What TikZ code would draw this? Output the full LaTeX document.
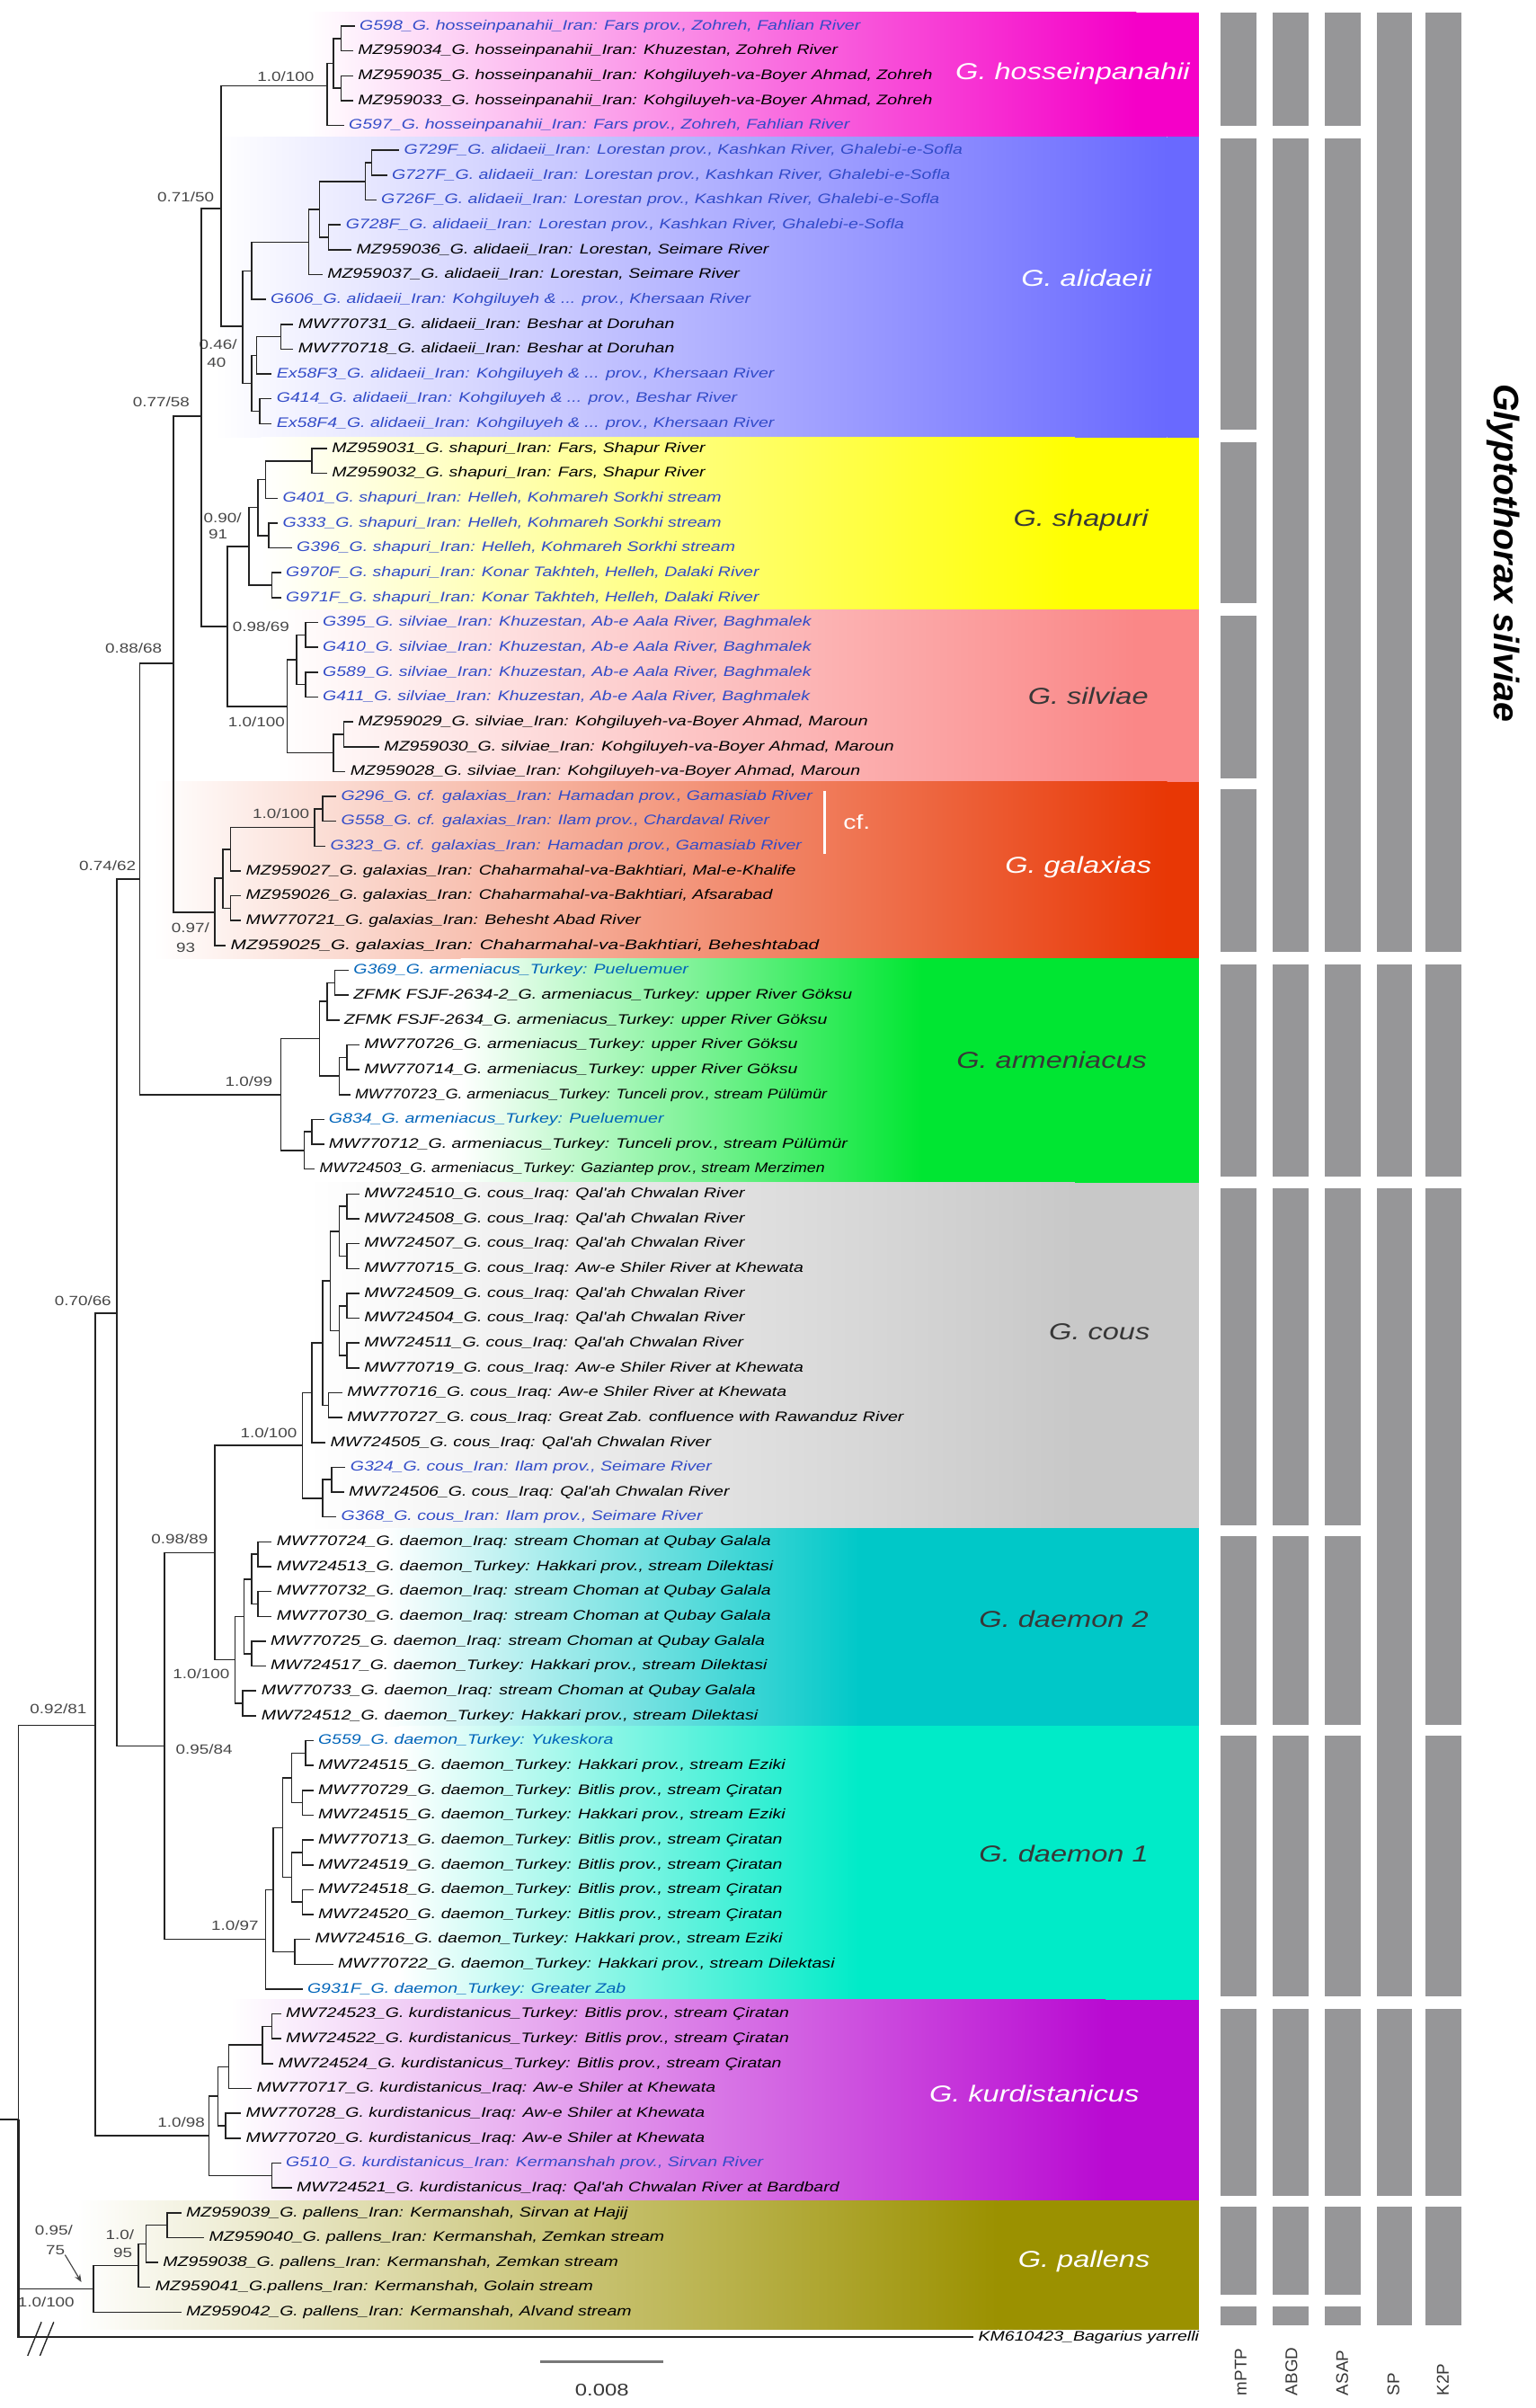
\documentclass[tikz,border=0pt]{standalone}
\usepackage{fontspec}
\usepackage{graphicx}
\setmainfont{Liberation Sans}
\newfontfamily\tipf[FakeStretch=1.27]{Liberation Sans}
\usetikzlibrary{arrows.meta}
\definecolor{cHo}{RGB}{245,0,200}
\definecolor{cAl}{RGB}{105,105,255}
\definecolor{cSh}{RGB}{255,255,0}
\definecolor{cSi}{RGB}{250,135,135}
\definecolor{cGa}{RGB}{232,55,5}
\definecolor{cAr}{RGB}{0,230,50}
\definecolor{cCo}{RGB}{200,200,200}
\definecolor{cDb}{RGB}{0,200,200}
\definecolor{cDa}{RGB}{0,235,200}
\definecolor{cKu}{RGB}{185,10,210}
\definecolor{cPa}{RGB}{155,145,0}
\definecolor{ib}{RGB}{50,75,200}
\definecolor{tb}{RGB}{0,100,185}
\definecolor{brc}{RGB}{35,35,35}
\definecolor{supc}{RGB}{70,70,70}
\definecolor{barc}{RGB}{150,150,152}
\definecolor{dk}{RGB}{55,55,55}
\begin{document}
\begin{tikzpicture}[x=1pt,y=-1pt,
  br/.style={draw=brc,line width=0.9pt},
  tip/.style={anchor=west,inner xsep=3pt,inner ysep=0pt,text height=7pt,text depth=2pt,font=\tipf\itshape\fontsize{9}{10}\selectfont},
  sup/.style={inner sep=0pt,text=supc,font=\tipf\fontsize{8.7}{9}\selectfont},
  clade/.style={anchor=mid east,inner sep=0pt,font=\tipf\itshape\fontsize{15}{16}\selectfont},
  meth/.style={rotate=90,anchor=west,inner sep=0pt,text=dk,font=\fontsize{11}{12}\selectfont},
  bar/.style={fill=barc}]
\useasboundingbox (0,0) rectangle (1000,1568);
% coloured backgrounds
\foreach \c/\t/\b/\a/\e in {cHo/8/89/200/740, cAl/89/285/140/760, cSh/285/397/170/700, cSi/397/509/180/740,
  cGa/509/624/100/760, cAr/624/770/300/600, cCo/770/995/200/700, cDb/995/1124/250/560,
  cDa/1124/1302/260/560, cKu/1302/1433/150/720, cPa/1433/1517/50/650}{
  \shade[left color=white,right color=\c] (\a,\t) rectangle (\e,\b);
  \fill[\c] (\e,\t) rectangle (781,\b);
}
% bars
\foreach \x/\a/\b in {806.5/8/82,806.5/90/280,806.5/288/393,806.5/401/507,806.5/514/620,806.5/628/766,806.5/774/993,806.5/1000/1123,806.5/1130/1300,806.5/1308/1430,806.5/1437/1494,806.5/1502/1514,
 840.5/8/82,840.5/90/620,840.5/628/766,840.5/774/993,840.5/1000/1123,840.5/1130/1300,840.5/1308/1430,840.5/1437/1494,840.5/1502/1514,
 874.5/8/82,874.5/90/620,874.5/628/766,874.5/774/993,874.5/1000/1123,874.5/1130/1300,874.5/1308/1430,874.5/1437/1494,874.5/1502/1514,
 908/8/620,908/628/766,908/774/1300,908/1308/1430,908/1437/1514,
 940/8/620,940/628/766,940/774/1123,940/1130/1300,940/1308/1430,940/1437/1514}
 {\fill[bar] (\x-11.5,\a) rectangle (\x+11.5,\b);}
\node[meth] (m1) at (808,1560) {mPTP};
\node[meth] (m2) at (841,1560) {ABGD};
\node[meth] (m3) at (874,1560) {ASAP};
\node[meth] (m4) at (907.5,1560) {SP};
\node[meth] (m5) at (939.5,1560) {K2P};
\node[rotate=-90,inner sep=0pt,font=\bfseries\itshape\fontsize{23}{24}\selectfont] (gsil) at (979,360) {Glyptothorax silviae};
% cf. bracket
\coordinate (cfa) at (537,515); \coordinate (cfb) at (537,556);
\draw[white,line width=1.2pt] (cfa) -- (cfb);
\node[text=white,inner sep=0pt,font=\tipf\fontsize{13}{14}\selectfont] (cf) at (558,535) {cf.};
% clade names
\node[clade,text=white] (nHo) at (775,49) {G. hosseinpanahii};
\node[clade,text=white] (nAl) at (750,184) {G. alidaeii};
\node[clade,text=dk] (nSh) at (748,340) {G. shapuri};
\node[clade,text=dk] (nSi) at (748,456) {G. silviae};
\node[clade,text=white] (nGa) at (750,566) {G. galaxias};
\node[clade,text=dk] (nAr) at (747,693) {G. armeniacus};
\node[clade,text=dk] (nCo) at (749,870) {G. cous};
\node[clade,text=dk] (nDb) at (748,1057) {G. daemon 2};
\node[clade,text=dk] (nDa) at (748,1210) {G. daemon 1};
\node[clade,text=white] (nKu) at (742,1366) {G. kurdistanicus};
\node[clade,text=white] (nPa) at (749,1474) {G. pallens};
% scale bar
\coordinate (sb1) at (352,1538); \coordinate (sb2) at (432,1538);
\draw[draw={rgb,255:red,120;green,120;blue,120},line width=1.6pt] (sb1) -- (sb2);
\node[inner sep=0pt,text=dk,font=\tipf\fontsize{11}{12}\selectfont] (sbl) at (392,1556) {0.008};
% support values
\foreach \x/\y/\t [count=\i] in {186/50/1.0\slash 100,121/128/0.71\slash 50,142/224/0.46\slash,141/236/40,105/262/0.77\slash 58,
  145/337/0.90\slash,142/348/91,170/408/0.98\slash 69,87/422/0.88\slash 68,167/470/1.0\slash 100,183/530/1.0\slash 100,
  70/564/0.74\slash 62,124/604/0.97\slash,121/617/93,162/704/1.0\slash 99,54/847/0.70\slash 66,175/933/1.0\slash 100,
  117/1002/0.98\slash 89,131/1090/1.0\slash 100,38/1113/0.92\slash 81,133/1139/0.95\slash 84,153/1254/1.0\slash 97,
  118/1382/1.0\slash 98,35/1452/0.95\slash,36/1465/75,78/1455/1.0\slash,80/1467/95,30/1499/1.0\slash 100}
  {\node[sup] (sv\i) at (\x,\y) {\t};}
\coordinate (arrtip) at (53,1486);
\draw[supc,line width=0.7pt,-{Stealth[length=5pt,width=4pt]}] (sv25.south east) -- (arrtip);
% tree
\begin{scope}[y=-16.18pt,yshift=-0.82pt]
\coordinate (R) at (12,85.24); \coordinate (R0) at (0,85.24);
\coordinate (A) at (62,69.38); \coordinate (pal) at (61,92.06);
\coordinate (B) at (76,52.8); \coordinate (kur) at (136,85.9);
\coordinate (C) at (91,35.32); \coordinate (Q) at (107,70.22);
\coordinate (D) at (113,26.65); \coordinate (arm) at (183,44.0);
\coordinate (E) at (131,16.7); \coordinate (gal) at (140,36.66);
\coordinate (F) at (144,8.35); \coordinate (G) at (148,25.16);
\coordinate (hos) at (213,3.4); \coordinate (ali) at (158,13.09);
\coordinate (sha) at (162,21.94); \coordinate (sil) at (187,28.375);
\coordinate (h1234) at (217,2.5); \coordinate (h12) at (222,1.5); \coordinate (h34) at (222,3.5);
\coordinate (a612) at (164,10.85); \coordinate (a1317) at (164,15.375);
\coordinate (a611) at (201,9.69); \coordinate (a610) at (208,8.375);
\coordinate (a678) at (238,7.25); \coordinate (a910) at (214,9.5); \coordinate (a67) at (242,6.5);
\coordinate (a1315) at (167,14.25); \coordinate (a1617) at (169,16.5); \coordinate (a1314) at (183,13.5);
\coordinate (s1822) at (168,20.375); \coordinate (s2324) at (177,23.5);
\coordinate (s1820) at (173,19.25); \coordinate (s2122) at (175,21.5); \coordinate (s1819) at (203,18.5);
\coordinate (v2528) at (193,26.5); \coordinate (v2931) at (217,30.25);
\coordinate (v2526) at (199,25.5); \coordinate (v2728) at (199,27.5); \coordinate (v2930) at (224,29.5);
\coordinate (g3237) at (145,35.3); \coordinate (g3235) at (150,34.125); \coordinate (g3637) at (150,36.5);
\coordinate (g3234) at (205,33.25); \coordinate (g3233) at (210,32.5);
\coordinate (r3944) at (208,41.75); \coordinate (r4547) at (198,46.25);
\coordinate (r3941) at (213,40.25); \coordinate (r4244) at (221,43.25);
\coordinate (r3940) at (218,39.5); \coordinate (r4243) at (226,42.5); \coordinate (r4546) at (203,45.5);
\coordinate (P) at (140,62.44); \coordinate (d1) at (173,78);
\coordinate (cou) at (197,58.125); \coordinate (d2) at (153,66.75);
\coordinate (cX) at (203,56.0); \coordinate (cY) at (210,60.25);
\coordinate (c4857) at (210,54.0); \coordinate (c4855) at (215,51.5); \coordinate (c5657) at (214,56.5);
\coordinate (c4851) at (221,49.5); \coordinate (c5255) at (221,53.5);
\coordinate (c4849) at (226,48.5); \coordinate (c5051) at (226,50.5);
\coordinate (c5253) at (226,52.5); \coordinate (c5455) at (226,54.5);
\coordinate (c5960) at (216,59.5);
\coordinate (d6267) at (159,65); \coordinate (d6869) at (158,68.5);
\coordinate (d6265) at (164,63.5); \coordinate (d6667) at (164,66.5);
\coordinate (d6263) at (168,62.5); \coordinate (d6465) at (168,64.5);
\coordinate (d1a) at (178,76.0); \coordinate (d7077) at (184,73.5); \coordinate (d7879) at (192,78.5);
\coordinate (d7073) at (190,71.5); \coordinate (d7477) at (190,75.5);
\coordinate (d7071) at (199,70.5); \coordinate (d7273) at (197,72.5);
\coordinate (d7475) at (197,74.5); \coordinate (d7677) at (197,76.5);
\coordinate (k8184) at (142,84.31); \coordinate (k8788) at (177,87.5);
\coordinate (k8183x) at (149,83.125); \coordinate (k8586) at (147,85.5);
\coordinate (k8183) at (171,82.25); \coordinate (k8182) at (177,81.5);
\coordinate (p8992) at (90,91.125); \coordinate (p8991) at (95,90.25); \coordinate (p8990) at (109,89.5);
% tips
\node[tip,text=ib] (t1) at (231,1) {G598\_G. hosseinpanahii\_Iran: Fars prov., Zohreh, Fahlian River};
\node[tip] (t2) at (230,2) {MZ959034\_G. hosseinpanahii\_Iran: Khuzestan, Zohreh River};
\node[tip] (t3) at (230,3) {MZ959035\_G. hosseinpanahii\_Iran: Kohgiluyeh-va-Boyer Ahmad, Zohreh};
\node[tip] (t4) at (230,4) {MZ959033\_G. hosseinpanahii\_Iran: Kohgiluyeh-va-Boyer Ahmad, Zohreh};
\node[tip,text=ib] (t5) at (224,5) {G597\_G. hosseinpanahii\_Iran: Fars prov., Zohreh, Fahlian River};
\node[tip,text=ib] (t6) at (260,6) {G729F\_G. alidaeii\_Iran: Lorestan prov., Kashkan River, Ghalebi-e-Sofla};
\node[tip,text=ib] (t7) at (252,7) {G727F\_G. alidaeii\_Iran: Lorestan prov., Kashkan River, Ghalebi-e-Sofla};
\node[tip,text=ib] (t8) at (245,8) {G726F\_G. alidaeii\_Iran: Lorestan prov., Kashkan River, Ghalebi-e-Sofla};
\node[tip,text=ib] (t9) at (222,9) {G728F\_G. alidaeii\_Iran: Lorestan prov., Kashkan River, Ghalebi-e-Sofla};
\node[tip] (t10) at (229,10) {MZ959036\_G. alidaeii\_Iran: Lorestan, Seimare River};
\node[tip] (t11) at (210,11) {MZ959037\_G. alidaeii\_Iran: Lorestan, Seimare River};
\node[tip,text=ib] (t12) at (173,12) {G606\_G. alidaeii\_Iran: Kohgiluyeh \& ... prov., Khersaan River};
\node[tip] (t13) at (191,13) {MW770731\_G. alidaeii\_Iran: Beshar at Doruhan};
\node[tip] (t14) at (191,14) {MW770718\_G. alidaeii\_Iran: Beshar at Doruhan};
\node[tip,text=ib] (t15) at (177,15) {Ex58F3\_G. alidaeii\_Iran: Kohgiluyeh \& ... prov., Khersaan River};
\node[tip,text=ib] (t16) at (177,16) {G414\_G. alidaeii\_Iran: Kohgiluyeh \& ... prov., Beshar River};
\node[tip,text=ib] (t17) at (177,17) {Ex58F4\_G. alidaeii\_Iran: Kohgiluyeh \& ... prov., Khersaan River};
\node[tip] (t18) at (213,18) {MZ959031\_G. shapuri\_Iran: Fars, Shapur River};
\node[tip] (t19) at (213,19) {MZ959032\_G. shapuri\_Iran: Fars, Shapur River};
\node[tip,text=ib] (t20) at (181,20) {G401\_G. shapuri\_Iran: Helleh, Kohmareh Sorkhi stream};
\node[tip,text=ib] (t21) at (181,21) {G333\_G. shapuri\_Iran: Helleh, Kohmareh Sorkhi stream};
\node[tip,text=ib] (t22) at (190,22) {G396\_G. shapuri\_Iran: Helleh, Kohmareh Sorkhi stream};
\node[tip,text=ib] (t23) at (183,23) {G970F\_G. shapuri\_Iran: Konar Takhteh, Helleh, Dalaki River};
\node[tip,text=ib] (t24) at (183,24) {G971F\_G. shapuri\_Iran: Konar Takhteh, Helleh, Dalaki River};
\node[tip,text=ib] (t25) at (207,25) {G395\_G. silviae\_Iran: Khuzestan, Ab-e Aala River, Baghmalek};
\node[tip,text=ib] (t26) at (207,26) {G410\_G. silviae\_Iran: Khuzestan, Ab-e Aala River, Baghmalek};
\node[tip,text=ib] (t27) at (207,27) {G589\_G. silviae\_Iran: Khuzestan, Ab-e Aala River, Baghmalek};
\node[tip,text=ib] (t28) at (207,28) {G411\_G. silviae\_Iran: Khuzestan, Ab-e Aala River, Baghmalek};
\node[tip] (t29) at (230,29) {MZ959029\_G. silviae\_Iran: Kohgiluyeh-va-Boyer Ahmad, Maroun};
\node[tip] (t30) at (247,30) {MZ959030\_G. silviae\_Iran: Kohgiluyeh-va-Boyer Ahmad, Maroun};
\node[tip] (t31) at (225,31) {MZ959028\_G. silviae\_Iran: Kohgiluyeh-va-Boyer Ahmad, Maroun};
\node[tip,text=ib] (t32) at (219,32) {G296\_G. cf. galaxias\_Iran: Hamadan prov., Gamasiab River};
\node[tip,text=ib] (t33) at (219,33) {G558\_G. cf. galaxias\_Iran: Ilam prov., Chardaval River};
\node[tip,text=ib] (t34) at (212,34) {G323\_G. cf. galaxias\_Iran: Hamadan prov., Gamasiab River};
\node[tip] (t35) at (157,35) {MZ959027\_G. galaxias\_Iran: Chaharmahal-va-Bakhtiari, Mal-e-Khalife};
\node[tip] (t36) at (157,36) {MZ959026\_G. galaxias\_Iran: Chaharmahal-va-Bakhtiari, Afsarabad};
\node[tip] (t37) at (157,37) {MW770721\_G. galaxias\_Iran: Behesht Abad River};
\node[tip] (t38) at (147,38) {\scalebox{1.07}[1]{MZ959025\_G. galaxias\_Iran: Chaharmahal-va-Bakhtiari, Beheshtabad}};
\node[tip,text=tb] (t39) at (227,39) {G369\_G. armeniacus\_Turkey: Pueluemuer};
\node[tip] (t40) at (227,40) {ZFMK FSJF-2634-2\_G. armeniacus\_Turkey: upper River Göksu};
\node[tip] (t41) at (221,41) {ZFMK FSJF-2634\_G. armeniacus\_Turkey: upper River Göksu};
\node[tip] (t42) at (234,42) {MW770726\_G. armeniacus\_Turkey: upper River Göksu};
\node[tip] (t43) at (234,43) {MW770714\_G. armeniacus\_Turkey: upper River Göksu};
\node[tip] (t44) at (228,44) {\scalebox{0.91}[1]{MW770723\_G. armeniacus\_Turkey: Tunceli prov., stream Pülümür}};
\node[tip,text=tb] (t45) at (211,45) {G834\_G. armeniacus\_Turkey: Pueluemuer};
\node[tip] (t46) at (211,46) {MW770712\_G. armeniacus\_Turkey: Tunceli prov., stream Pülümür};
\node[tip] (t47) at (205,47) {\scalebox{0.91}[1]{MW724503\_G. armeniacus\_Turkey: Gaziantep prov., stream Merzimen}};
\node[tip] (t48) at (234,48) {MW724510\_G. cous\_Iraq: Qal'ah Chwalan River};
\node[tip] (t49) at (234,49) {MW724508\_G. cous\_Iraq: Qal'ah Chwalan River};
\node[tip] (t50) at (234,50) {MW724507\_G. cous\_Iraq: Qal'ah Chwalan River};
\node[tip] (t51) at (234,51) {MW770715\_G. cous\_Iraq: Aw-e Shiler River at Khewata};
\node[tip] (t52) at (234,52) {MW724509\_G. cous\_Iraq: Qal'ah Chwalan River};
\node[tip] (t53) at (234,53) {MW724504\_G. cous\_Iraq: Qal'ah Chwalan River};
\node[tip] (t54) at (234,54) {MW724511\_G. cous\_Iraq: Qal'ah Chwalan River};
\node[tip] (t55) at (234,55) {MW770719\_G. cous\_Iraq: Aw-e Shiler River at Khewata};
\node[tip] (t56) at (223,56) {MW770716\_G. cous\_Iraq: Aw-e Shiler River at Khewata};
\node[tip] (t57) at (223,57) {MW770727\_G. cous\_Iraq: Great Zab. confluence with Rawanduz River};
\node[tip] (t58) at (212,58) {MW724505\_G. cous\_Iraq: Qal'ah Chwalan River};
\node[tip,text=ib] (t59) at (225,59) {G324\_G. cous\_Iran: Ilam prov., Seimare River};
\node[tip] (t60) at (224,60) {MW724506\_G. cous\_Iraq: Qal'ah Chwalan River};
\node[tip,text=ib] (t61) at (219,61) {G368\_G. cous\_Iran: Ilam prov., Seimare River};
\node[tip] (t62) at (177,62) {MW770724\_G. daemon\_Iraq: stream Choman at Qubay Galala};
\node[tip] (t63) at (177,63) {MW724513\_G. daemon\_Turkey: Hakkari prov., stream Dilektasi};
\node[tip] (t64) at (177,64) {MW770732\_G. daemon\_Iraq: stream Choman at Qubay Galala};
\node[tip] (t65) at (177,65) {MW770730\_G. daemon\_Iraq: stream Choman at Qubay Galala};
\node[tip] (t66) at (173,66) {MW770725\_G. daemon\_Iraq: stream Choman at Qubay Galala};
\node[tip] (t67) at (173,67) {MW724517\_G. daemon\_Turkey: Hakkari prov., stream Dilektasi};
\node[tip] (t68) at (167,68) {MW770733\_G. daemon\_Iraq: stream Choman at Qubay Galala};
\node[tip] (t69) at (167,69) {MW724512\_G. daemon\_Turkey: Hakkari prov., stream Dilektasi};
\node[tip,text=tb] (t70) at (204,70) {G559\_G. daemon\_Turkey: Yukeskora};
\node[tip] (t71) at (204,71) {MW724515\_G. daemon\_Turkey: Hakkari prov., stream Eziki};
\node[tip] (t72) at (204,72) {MW770729\_G. daemon\_Turkey: Bitlis prov., stream Çiratan};
\node[tip] (t73) at (204,73) {MW724515\_G. daemon\_Turkey: Hakkari prov., stream Eziki};
\node[tip] (t74) at (204,74) {MW770713\_G. daemon\_Turkey: Bitlis prov., stream Çiratan};
\node[tip] (t75) at (204,75) {MW724519\_G. daemon\_Turkey: Bitlis prov., stream Çiratan};
\node[tip] (t76) at (204,76) {MW724518\_G. daemon\_Turkey: Bitlis prov., stream Çiratan};
\node[tip] (t77) at (204,77) {MW724520\_G. daemon\_Turkey: Bitlis prov., stream Çiratan};
\node[tip] (t78) at (202,78) {MW724516\_G. daemon\_Turkey: Hakkari prov., stream Eziki};
\node[tip] (t79) at (217,79) {MW770722\_G. daemon\_Turkey: Hakkari prov., stream Dilektasi};
\node[tip,text=tb] (t80) at (197,80) {G931F\_G. daemon\_Turkey: Greater Zab};
\node[tip] (t81) at (183,81) {MW724523\_G. kurdistanicus\_Turkey: Bitlis prov., stream Çiratan};
\node[tip] (t82) at (183,82) {MW724522\_G. kurdistanicus\_Turkey: Bitlis prov., stream Çiratan};
\node[tip] (t83) at (178,83) {MW724524\_G. kurdistanicus\_Turkey: Bitlis prov., stream Çiratan};
\node[tip] (t84) at (164,84) {MW770717\_G. kurdistanicus\_Iraq: Aw-e Shiler at Khewata};
\node[tip] (t85) at (157,85) {MW770728\_G. kurdistanicus\_Iraq: Aw-e Shiler at Khewata};
\node[tip] (t86) at (157,86) {MW770720\_G. kurdistanicus\_Iraq: Aw-e Shiler at Khewata};
\node[tip,text=ib] (t87) at (183,87) {G510\_G. kurdistanicus\_Iran: Kermanshah prov., Sirvan River};
\node[tip] (t88) at (190,88) {MW724521\_G. kurdistanicus\_Iraq: Qal'ah Chwalan River at Bardbard};
\node[tip] (t89) at (118,89) {MZ959039\_G. pallens\_Iran: Kermanshah, Sirvan at Hajij};
\node[tip] (t90) at (133,90) {MZ959040\_G. pallens\_Iran: Kermanshah, Zemkan stream};
\node[tip] (t91) at (103,91) {MZ959038\_G. pallens\_Iran: Kermanshah, Zemkan stream};
\node[tip] (t92) at (98,92) {MZ959041\_G.pallens\_Iran: Kermanshah, Golain stream};
\node[tip] (t93) at (118,93) {MZ959042\_G. pallens\_Iran: Kermanshah, Alvand stream};
\node[tip] (t94) at (634,94) {KM610423\_Bagarius yarrelli};
% branches
\draw[br] (R0) -- (R);
\draw[br,line width=1.4pt] (R) |- (t94.west);
\foreach \p/\c in {R/A,R/pal,A/B,A/kur,B/C,B/Q,C/D,C/arm,D/E,D/gal,E/F,E/G,F/hos,F/ali,G/sha,G/sil,
 hos/h1234,hos/t5.west,h1234/h12,h1234/h34,h12/t1.west,h12/t2.west,h34/t3.west,h34/t4.west,
 ali/a612,ali/a1317,a612/a611,a612/t12.west,a611/a610,a611/t11.west,a610/a678,a610/a910,a678/a67,a678/t8.west,
 a67/t6.west,a67/t7.west,a910/t9.west,a910/t10.west,a1317/a1315,a1317/a1617,a1315/a1314,a1315/t15.west,
 a1314/t13.west,a1314/t14.west,a1617/t16.west,a1617/t17.west,
 sha/s1822,sha/s2324,s1822/s1820,s1822/s2122,s1820/s1819,s1820/t20.west,s1819/t18.west,s1819/t19.west,
 s2122/t21.west,s2122/t22.west,s2324/t23.west,s2324/t24.west,
 sil/v2528,sil/v2931,v2528/v2526,v2528/v2728,v2526/t25.west,v2526/t26.west,v2728/t27.west,v2728/t28.west,
 v2931/v2930,v2931/t31.west,v2930/t29.west,v2930/t30.west,
 gal/g3237,gal/t38.west,g3237/g3235,g3237/g3637,g3235/g3234,g3235/t35.west,g3234/g3233,g3234/t34.west,
 g3233/t32.west,g3233/t33.west,g3637/t36.west,g3637/t37.west,
 arm/r3944,arm/r4547,r3944/r3941,r3944/r4244,r3941/r3940,r3941/t41.west,r3940/t39.west,r3940/t40.west,
 r4244/r4243,r4244/t44.west,r4243/t42.west,r4243/t43.west,r4547/r4546,r4547/t47.west,r4546/t45.west,r4546/t46.west,
 Q/P,Q/d1,P/cou,P/d2,cou/cX,cou/cY,cX/c4857,cX/t58.west,c4857/c4855,c4857/c5657,c4855/c4851,c4855/c5255,
 c4851/c4849,c4851/c5051,c5255/c5253,c5255/c5455,c4849/t48.west,c4849/t49.west,c5051/t50.west,c5051/t51.west,
 c5253/t52.west,c5253/t53.west,c5455/t54.west,c5455/t55.west,c5657/t56.west,c5657/t57.west,
 cY/c5960,cY/t61.west,c5960/t59.west,c5960/t60.west,
 d2/d6267,d2/d6869,d6267/d6265,d6267/d6667,d6265/d6263,d6265/d6465,d6263/t62.west,d6263/t63.west,
 d6465/t64.west,d6465/t65.west,d6667/t66.west,d6667/t67.west,d6869/t68.west,d6869/t69.west,
 d1/d1a,d1/t80.west,d1a/d7077,d1a/d7879,d7077/d7073,d7077/d7477,d7073/d7071,d7073/d7273,d7477/d7475,d7477/d7677,
 d7071/t70.west,d7071/t71.west,d7273/t72.west,d7273/t73.west,d7475/t74.west,d7475/t75.west,d7677/t76.west,d7677/t77.west,
 d7879/t78.west,d7879/t79.west,
 kur/k8184,kur/k8788,k8184/k8183x,k8184/k8586,k8183x/k8183,k8183x/t84.west,k8183/k8182,k8183/t83.west,
 k8182/t81.west,k8182/t82.west,k8586/t85.west,k8586/t86.west,k8788/t87.west,k8788/t88.west,
 pal/p8992,pal/t93.west,p8992/p8991,p8992/t92.west,p8991/p8990,p8991/t91.west,p8990/t89.west,p8990/t90.west}
 {\draw[br] (\p) |- (\c);}
\end{scope}
% break marks on the outgroup branch
\coordinate (bk1a) at (18,1534); \coordinate (bk1b) at (27,1512);
\coordinate (bk2a) at (26,1534); \coordinate (bk2b) at (35,1512);
\draw[brc,line width=0.8pt] (bk1a) -- (bk1b);
\draw[brc,line width=0.8pt] (bk2a) -- (bk2b);
\end{tikzpicture}
\end{document}
